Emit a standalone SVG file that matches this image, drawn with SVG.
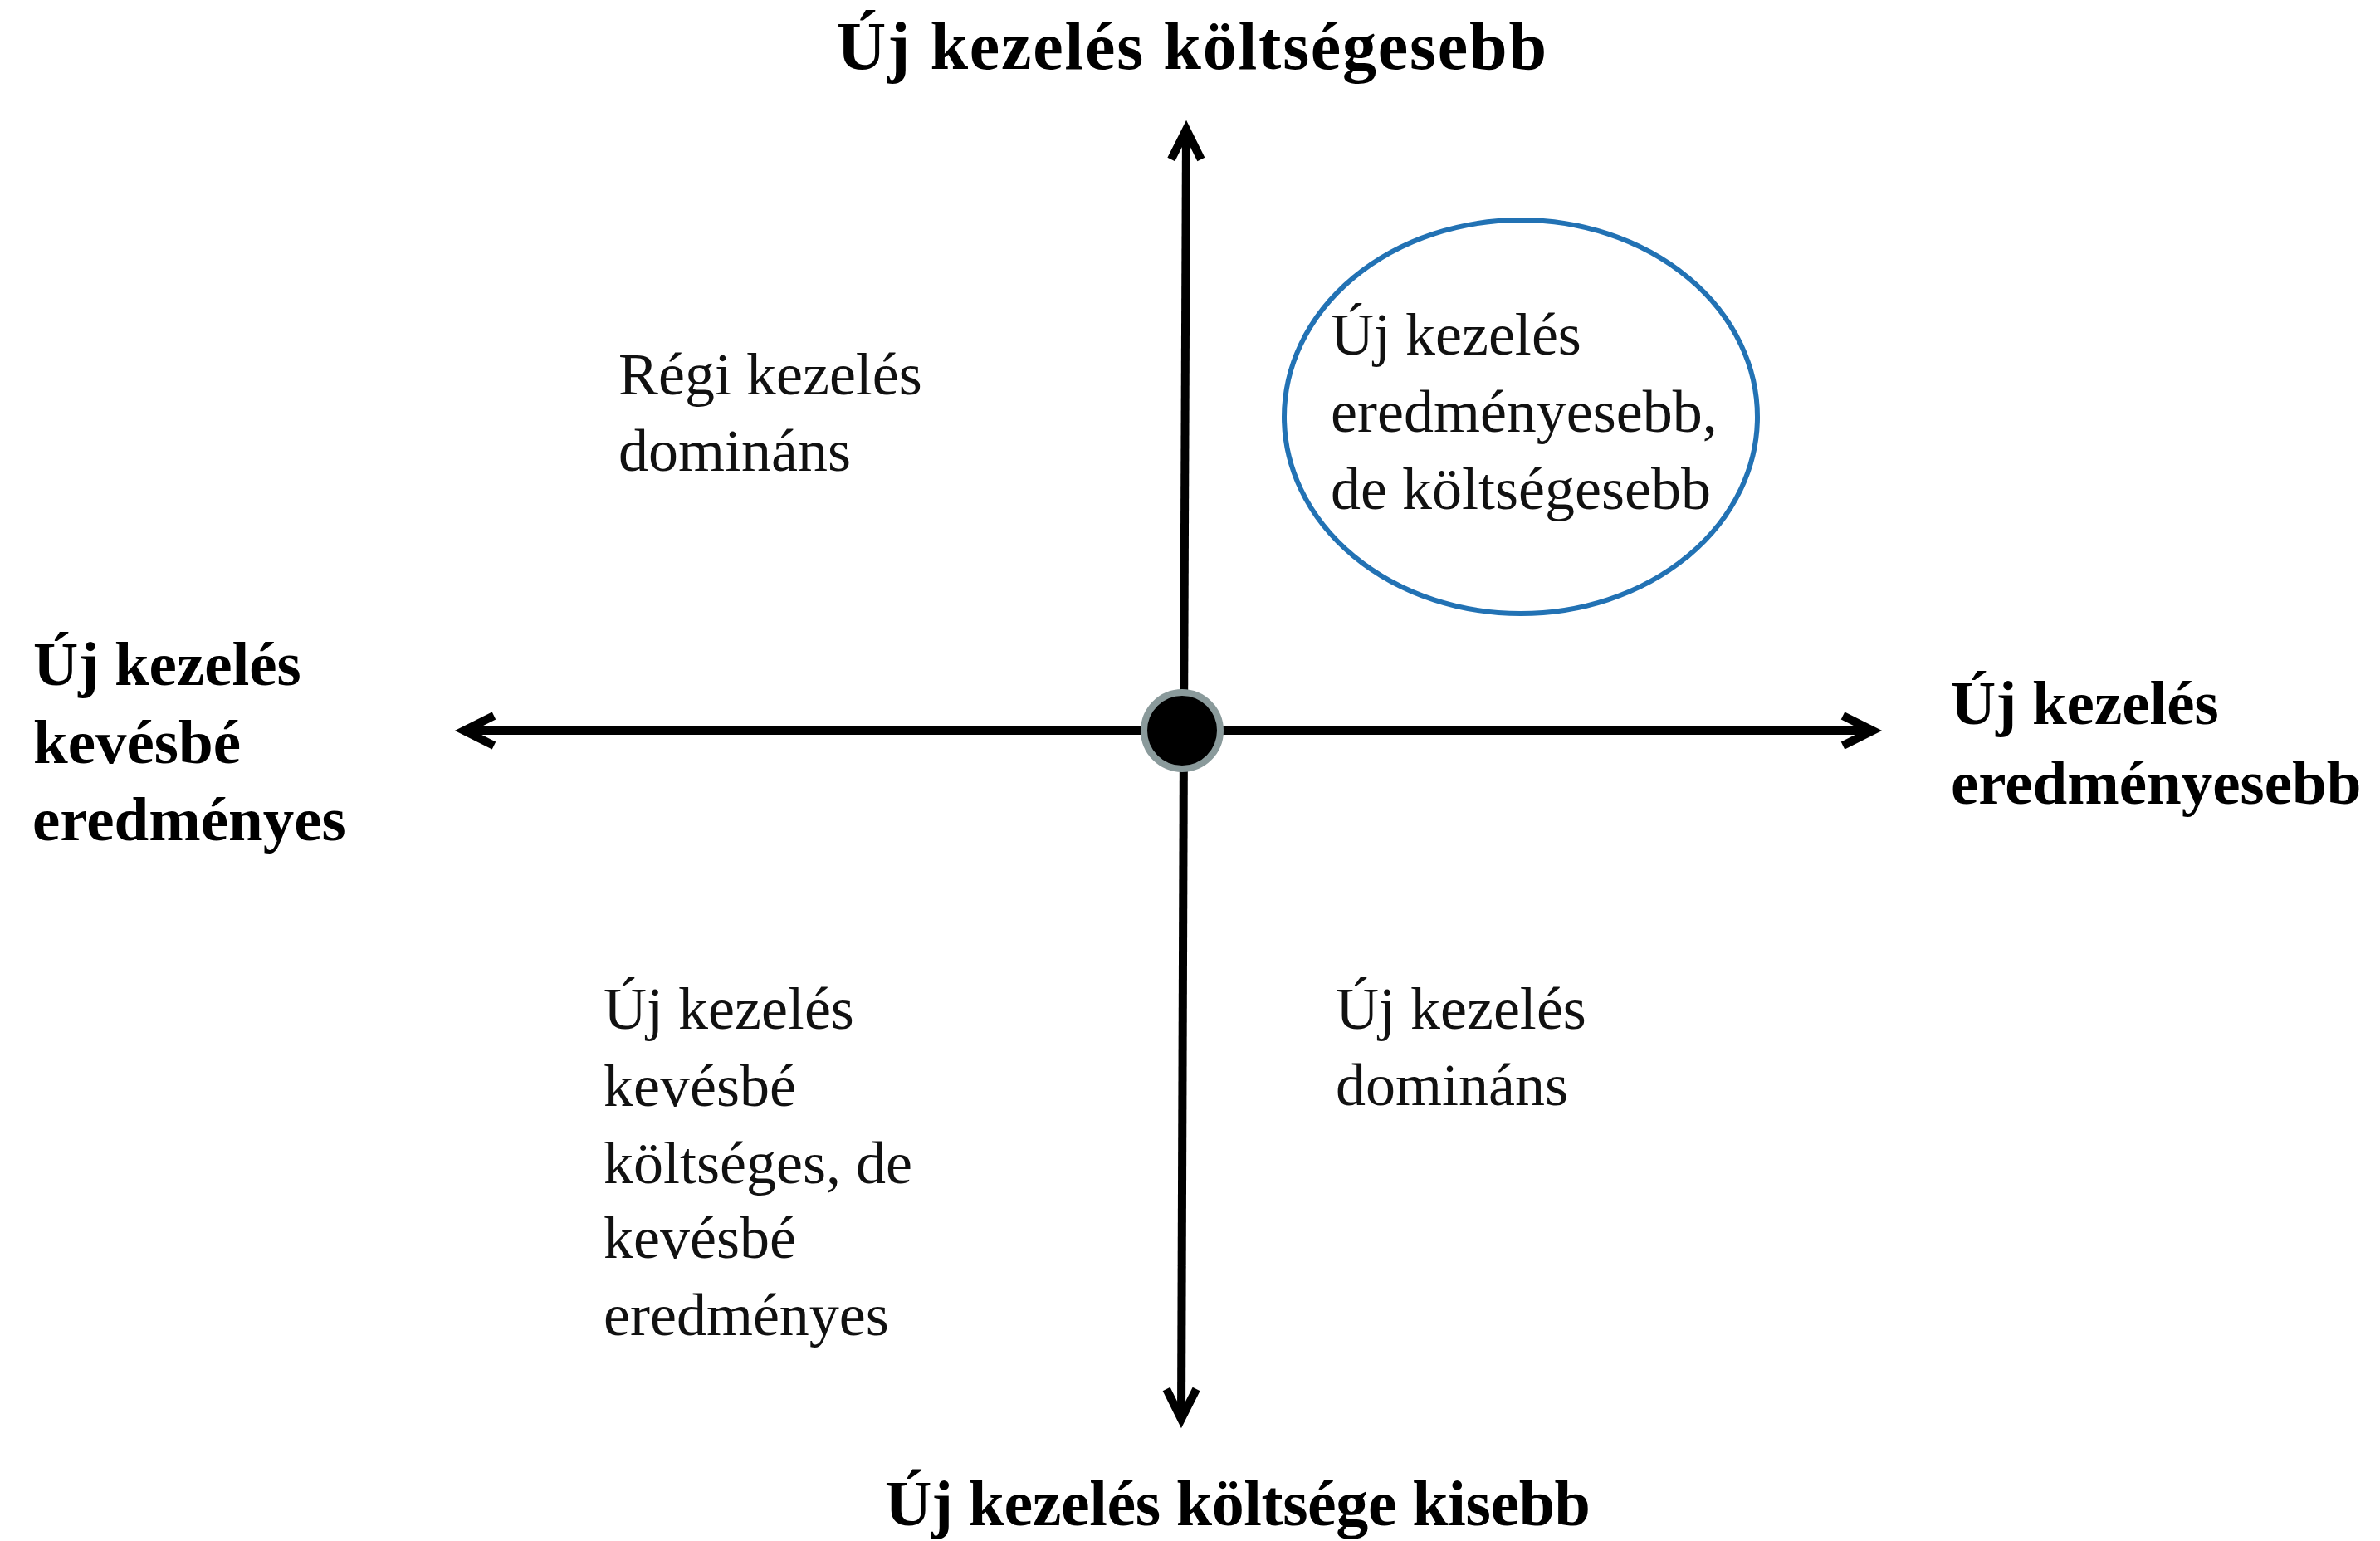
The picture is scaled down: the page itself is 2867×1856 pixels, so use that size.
<svg xmlns="http://www.w3.org/2000/svg" width="2867" height="1856" viewBox="0 0 2867 1856">
<style>
.bold{font-family:"Liberation Serif","Times New Roman",serif;font-weight:bold;fill:#000}
.reg{font-family:"Liberation Serif","Times New Roman",serif;font-weight:normal;fill:#111;font-size:72px}
.axis{stroke:#000;stroke-width:10;fill:none}
</style>
<defs>
<marker id="arr" markerUnits="userSpaceOnUse" viewBox="-50 -30 70 60" refX="0" refY="0" markerWidth="70" markerHeight="60" orient="auto">
<path d="M-36,-18 L0,0 L-36,18" fill="none" stroke="#000" stroke-width="10" stroke-linejoin="miter" stroke-miterlimit="10"/>
</marker>
</defs>
<rect width="2867" height="1856" fill="#fff"/>
<g id="connectors">
<line class="axis" x1="1426" y1="880" x2="2256" y2="880" marker-end="url(#arr)"/>
<line class="axis" x1="1426" y1="880" x2="559" y2="880" marker-end="url(#arr)"/>
<line class="axis" x1="1426" y1="880" x2="1429" y2="156" marker-end="url(#arr)"/>
<line class="axis" x1="1426" y1="880" x2="1423" y2="1709" marker-end="url(#arr)"/>
</g>
<g id="origin">
<circle cx="1424" cy="880" r="46" fill="#000" stroke="#8a9a9b" stroke-width="8"/>
</g>
<g id="label-top">
<text class="bold" x="1008" y="83" font-size="82" textLength="855" lengthAdjust="spacing">Új kezelés költségesebb</text>
</g>
<g id="label-bottom">
<text class="bold" x="1066" y="1837" font-size="78" textLength="850" lengthAdjust="spacing">Új kezelés  költsége kisebb</text>
</g>
<g id="label-left">
<text class="bold" font-size="75"><tspan x="40" y="825">Új kezelés</tspan><tspan x="40" y="919">kevésbé</tspan><tspan x="39" y="1012">eredményes</tspan></text>
</g>
<g id="label-right">
<text class="bold" font-size="75"><tspan x="2350" y="872">Új kezelés</tspan><tspan x="2350" y="968">eredményesebb</tspan></text>
</g>
<g id="quadrant-top-left">
<text class="reg"><tspan x="745" y="475">Régi kezelés</tspan><tspan x="745" y="567">domináns</tspan></text>
</g>
<g id="quadrant-top-right">
<ellipse cx="1832" cy="502" rx="285" ry="237" fill="none" stroke="#2272b4" stroke-width="6"/>
<text class="reg"><tspan x="1603" y="427">Új kezelés</tspan><tspan x="1603" y="520">eredményesebb,</tspan><tspan x="1603" y="613">de költségesebb</tspan></text>
</g>
<g id="quadrant-bottom-left">
<text class="reg"><tspan x="727" y="1239">Új kezelés</tspan><tspan x="727" y="1332">kevésbé</tspan><tspan x="727" y="1425">költséges, de</tspan><tspan x="727" y="1515">kevésbé</tspan><tspan x="727" y="1608">eredményes</tspan></text>
</g>
<g id="quadrant-bottom-right">
<text class="reg"><tspan x="1609" y="1239">Új kezelés</tspan><tspan x="1609" y="1331">domináns</tspan></text>
</g>
</svg>
